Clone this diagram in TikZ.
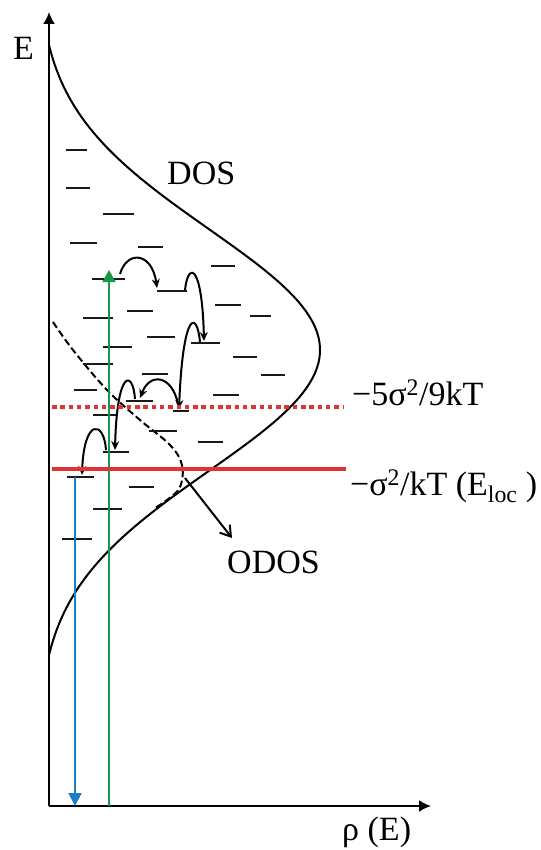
\documentclass[tikz,border=0pt]{standalone}
\usepackage{fontspec}
\setmainfont{Liberation Serif}
\usetikzlibrary{arrows.meta}
\definecolor{redl}{RGB}{222,52,52}
\definecolor{greenl}{RGB}{22,152,72}
\definecolor{bluel}{RGB}{24,126,200}
\begin{document}
\begin{tikzpicture}[x=1pt,y=-1pt, line join=round,
  lvl/.style={line width=2pt, black!90},
  hop/.style={line width=2pt, -{Stealth[length=9pt,width=8pt]}},
  lab/.style={font=\fontsize{34}{40}\selectfont, inner sep=0pt},
  axis/.style={line width=2pt, -{Latex[length=12pt,width=12pt]}}
  ]
\useasboundingbox (0,0) rectangle (540,850);

% axes
\coordinate (O) at (49,806);
\coordinate (Etop) at (49,12);
\coordinate (Rend) at (431,806);
\draw[axis] (O) -- (Etop);
\draw[axis] (O) -- (Rend);

% DOS curve
\draw[line width=2pt] plot[domain=45:655, samples=120]
  ({49+271*(exp((((\x-350)/100)^2)/(-2.928))-0.0417)/0.9583}, \x);

% ODOS dashed curve
\draw[line width=2pt, dash pattern=on 7pt off 3.5pt] plot[smooth, tension=0.6] coordinates
  {(53,322) (73,350) (107,390) (140,420) (170,445) (182,465) (180,487) (167,500) (155,508)};

% levels
\foreach \a/\b/\y in {66/87/150, 66/90/188, 103/134/214, 70/97/243, 138/163/247,
  211/235/266, 92/125/279, 157/187/291, 127/153/311, 215/241/305, 83/113/318,
  250/271/316, 147/175/337, 191/220/343, 103/132/347, 233/257/357, 83/113/364,
  142/168/374, 261/285/375, 74/97/390, 213/239/395, 126/153/401, 173/189/411,
  93/116/415, 149/177/431, 198/223/442, 103/129/452, 67/94/477, 129/154/487,
  93/122/509, 62/92/539}
  \draw[lvl] (\a,\y) -- (\b,\y);

% hops
\coordinate (a1) at (120,274); \coordinate (a2) at (157,288);
\coordinate (b1) at (185,290); \coordinate (b2) at (204,341);
\coordinate (c1) at (200,342); \coordinate (c2) at (179,409);
\coordinate (d1) at (178,404); \coordinate (d2) at (140,398);
\coordinate (e1) at (135,399); \coordinate (e2) at (115,450);
\coordinate (f1) at (106,450); \coordinate (f2) at (82,475);
\draw[hop] (a1) .. controls (127,250) and (152,252) .. (a2);
\draw[hop] (b1) .. controls (188,262) and (202,262) .. (b2);
\draw[hop] (c1) .. controls (197,310) and (183,310) .. (c2);
\draw[hop] (d1) .. controls (172,375) and (150,372) .. (d2);
\draw[hop] (e1) .. controls (133,370) and (117,368) .. (e2);
\draw[hop] (f1) .. controls (104,420) and (84,418) .. (f2);

% green and blue transitions
\coordinate (g0) at (109,806); \coordinate (g1) at (109,270);
\coordinate (bl0) at (75,477); \coordinate (bl1) at (75,806);
\draw[greenl, line width=1.8pt, -{Triangle[length=12pt,width=13pt]}] (g0) -- (g1);
\draw[bluel, line width=2pt, -{Triangle[length=13pt,width=13pt]}] (bl0) -- (bl1);

% red lines
\coordinate (r1a) at (52,407); \coordinate (r1b) at (343,407);
\coordinate (r2a) at (52,469); \coordinate (r2b) at (346,469);
\draw[redl, line width=3.2pt, dash pattern=on 4.5pt off 3.8pt] (r1a) -- (r1b);
\draw[redl, line width=4.3pt] (r2a) -- (r2b);

% ODOS pointer
\coordinate (p0) at (185,478); \coordinate (p1) at (232,538);
\draw[line width=2pt, -{Straight Barb[length=10pt,width=13pt]}] (p0) -- (p1);

% labels
\node[lab, anchor=base west] (Elab) at (13,60) {E};
\node[lab, anchor=base west] (dos) at (167,185) {DOS};
\node[lab, anchor=base west] (odos) at (227,573) {ODOS};
\node[lab, anchor=base west] (rho) at (342,840) {ρ (E)};
\node[lab, anchor=base west] (l1) at (352,405) {−5σ\textsuperscript{2}/9kT};
\node[lab, anchor=base west] (l2) at (350,495) {−σ\textsuperscript{2}/kT (E\textsubscript{loc} )};
\end{tikzpicture}
\end{document}
